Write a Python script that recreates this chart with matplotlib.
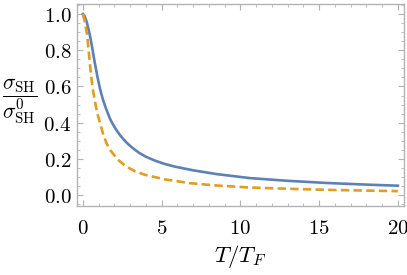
import matplotlib
matplotlib.use("Agg")
import matplotlib.pyplot as plt
from matplotlib.ticker import MultipleLocator, FuncFormatter

plt.rcParams["mathtext.fontset"] = "cm"

blue = "#5E81B5"
orange = "#E19C24"
frame_color = "#b3b3b3"

# values
t_solid = [0, 0.1, 0.25, 0.45, 0.6, 0.76, 0.92, 1.08, 1.19, 1.3, 1.45, 1.55,
           1.72, 1.85, 2.0, 2.15, 2.36, 2.6, 2.8, 3.0, 3.31, 3.6, 4.0, 4.59,
           5.2, 5.86, 7.0, 8.5, 10.6, 13, 15.5, 18, 20]
sigma_solid = [1.0, 0.99, 0.955, 0.88, 0.81, 0.728, 0.655, 0.59, 0.553, 0.52,
               0.482, 0.46, 0.422, 0.40, 0.377, 0.357, 0.331, 0.306, 0.288,
               0.272, 0.25, 0.232, 0.212, 0.19, 0.172, 0.157, 0.137, 0.116,
               0.094, 0.079, 0.067, 0.058, 0.052]

t_dashed = [0, 0.1, 0.27, 0.45, 0.6, 0.78, 0.92, 1.08, 1.3, 1.5, 1.72, 2.2,
            2.68, 3.3, 3.95, 5.2, 6.8, 8.5, 10.6, 13, 15.5, 18, 20]
sigma_dashed = [1.0, 0.965, 0.884, 0.72, 0.6, 0.51, 0.45, 0.40, 0.333, 0.287,
                0.25, 0.198, 0.162, 0.132, 0.112, 0.087, 0.066, 0.053, 0.042,
                0.035, 0.029, 0.025, 0.022]

fig = plt.figure(figsize=(4.07, 2.75), dpi=100)
ax = fig.add_axes([0.189, 0.251, 0.804, 0.734])

ax.plot(t_solid, sigma_solid, color=blue, linewidth=1.9,
        solid_joinstyle="round")
ax.plot(t_dashed, sigma_dashed, color=orange, linewidth=1.9,
        linestyle=(0, (3.2, 1.6)), dash_joinstyle="round")

ax.set_xlim(-0.38, 20.4)
ax.set_ylim(-0.06, 1.055)

ax.xaxis.set_major_locator(MultipleLocator(5))
ax.xaxis.set_minor_locator(MultipleLocator(1))
ax.yaxis.set_major_locator(MultipleLocator(0.2))
ax.yaxis.set_minor_locator(MultipleLocator(0.05))
ax.xaxis.set_major_formatter(FuncFormatter(lambda v, p: "$%d$" % round(v)))
ax.yaxis.set_major_formatter(FuncFormatter(lambda v, p: "$%.1f$" % v))

for s in ax.spines.values():
    s.set_color(frame_color)
    s.set_linewidth(1.0)

ax.tick_params(which="both", direction="in", top=True, right=True,
               color=frame_color, labelsize=15)
ax.tick_params(which="major", length=4.5, width=0.8)
ax.tick_params(which="minor", length=2.5, width=0.6)
ax.tick_params(axis="x", which="major", pad=9)
ax.tick_params(axis="y", which="major", pad=4)

fig.text(240 / 407, 1 - 256 / 275, r"$T/T_F$", fontsize=16.5,
         ha="center", va="center")
fig.text(20 / 407, 1 - 101 / 275,
         r"$\dfrac{\sigma_{\mathrm{SH}}}{\sigma_{\mathrm{SH}}^{0}}$",
         fontsize=15.5, ha="center", va="center")

fig.savefig("out.png", dpi=100)
